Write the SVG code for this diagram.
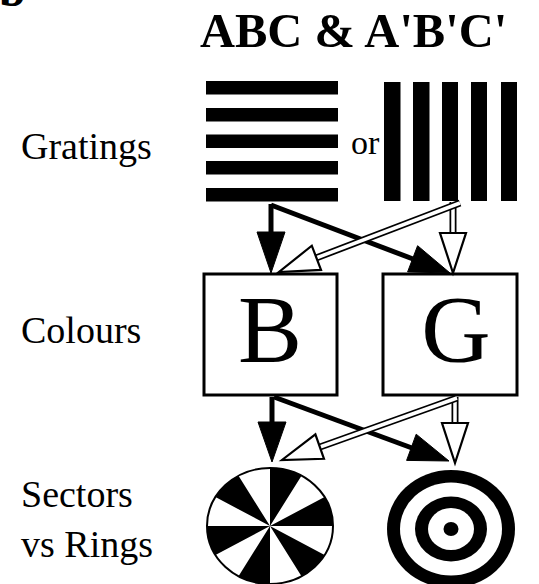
<svg xmlns="http://www.w3.org/2000/svg" width="539" height="584" viewBox="0 0 539 584">
<style>
.lbl{font-family:"Liberation Serif","Times New Roman",serif;font-size:38px;fill:#000}
.big{font-family:"Liberation Serif","Times New Roman",serif;font-size:96px;fill:#000;text-anchor:middle}
.box{fill:#fff;stroke:#000;stroke-width:3}
.bshaft{stroke:#000;stroke-width:5;fill:none}
.hout{stroke:#000;stroke-width:7;fill:none}
.hin{stroke:#fff;stroke-width:3.5;fill:none}
.bhead{fill:#000;stroke:#000;stroke-width:1}
.hhead{fill:#fff;stroke:#000;stroke-width:2.2;stroke-linejoin:miter}
</style>
<rect width="539" height="584" fill="#fff"/>
<text x="-1" y="6" font-family="'Liberation Serif','Times New Roman',serif" font-size="48" font-weight="bold">b</text>
<text x="200" y="47" font-family="'Liberation Serif','Times New Roman',serif" font-size="48.5" font-weight="bold">ABC &amp; A'B'C'</text>
<text class="lbl" x="21" y="159">Gratings</text>
<text class="lbl" x="21" y="343">Colours</text>
<text class="lbl" x="21" y="507">Sectors</text>
<text class="lbl" x="21" y="557">vs Rings</text>
<g id="grating-horizontal">
<rect x="206" y="81" width="132" height="13.5"/>
<rect x="206" y="108" width="132" height="13.5"/>
<rect x="206" y="134.5" width="132" height="13.5"/>
<rect x="206" y="161" width="132" height="13.5"/>
<rect x="206" y="188" width="132" height="13.5"/>
</g>
<text x="351" y="154" font-family="'Liberation Serif','Times New Roman',serif" font-size="34">or</text>
<g id="grating-vertical">
<rect x="384" y="82" width="16.5" height="119"/>
<rect x="413" y="82" width="16.5" height="119"/>
<rect x="442" y="82" width="16" height="119"/>
<rect x="471" y="82" width="16" height="119"/>
<rect x="501" y="82" width="16" height="119"/>
</g>
<g id="box-B">
<rect class="box" x="204" y="274" width="133" height="121"/>
<text class="big" x="270" y="362">B</text>
</g>
<g id="box-G">
<rect class="box" x="383" y="274" width="134" height="121"/>
<text class="big" x="456" y="362">G</text>
</g>
<g id="sectors">
<g transform="translate(270,526) scale(1,0.92)">
<circle r="63" fill="#fff" stroke="#000" stroke-width="2"/>
<path d="M0,0 L0,-63 A63,63 0 0 1 31.5,-54.56 Z M0,0 L54.56,-31.5 A63,63 0 0 1 63,0 Z M0,0 L54.56,31.5 A63,63 0 0 1 31.5,54.56 Z M0,0 L0,63 A63,63 0 0 1 -31.5,54.56 Z M0,0 L-54.56,31.5 A63,63 0 0 1 -63,0 Z M0,0 L-54.56,-31.5 A63,63 0 0 1 -31.5,-54.56 Z" fill="#000"/>
</g>
</g>
<g id="rings">
<ellipse cx="451" cy="529" rx="64" ry="59" fill="#000"/>
<ellipse cx="451" cy="529" rx="51" ry="46.5" fill="#fff"/>
<ellipse cx="451" cy="529" rx="36" ry="32.5" fill="#000"/>
<ellipse cx="451" cy="529" rx="23" ry="21" fill="#fff"/>
<ellipse cx="451" cy="529" rx="7.5" ry="7" fill="#000"/>
</g>
<g id="connectors">
<line class="bshaft" x1="271" y1="204" x2="271" y2="236"/>
<polygon class="bhead" points="257,232 285,232 271,273"/>
<line class="bshaft" x1="271" y1="205" x2="413" y2="259"/>
<polygon class="bhead" points="407.6,271.9 417.6,245.7 450,273"/>
<line class="hout" x1="453" y1="202" x2="453" y2="234"/>
<line class="hin" x1="453" y1="202" x2="453" y2="234"/>
<polygon class="hhead" points="440,233 466,233 453,273"/>
<line class="hout" x1="460" y1="203" x2="316" y2="258"/>
<line class="hin" x1="460" y1="203" x2="316" y2="258"/>
<polygon class="hhead" points="321,269.9 311.8,245.7 279,272"/>
<line class="bshaft" x1="272" y1="397" x2="272" y2="426"/>
<polygon class="bhead" points="258,422 286,422 272,462"/>
<line class="bshaft" x1="274" y1="397" x2="412" y2="448"/>
<polygon class="bhead" points="406.6,460.4 416.2,434.2 449,461"/>
<line class="hout" x1="455" y1="397" x2="455" y2="424"/>
<line class="hin" x1="455" y1="397" x2="455" y2="424"/>
<polygon class="hhead" points="442,423 468,423 455,463"/>
<line class="hout" x1="457" y1="398" x2="320" y2="447"/>
<line class="hin" x1="457" y1="398" x2="320" y2="447"/>
<polygon class="hhead" points="324,458.8 315.4,434.4 282,460"/>
</g>
</svg>
